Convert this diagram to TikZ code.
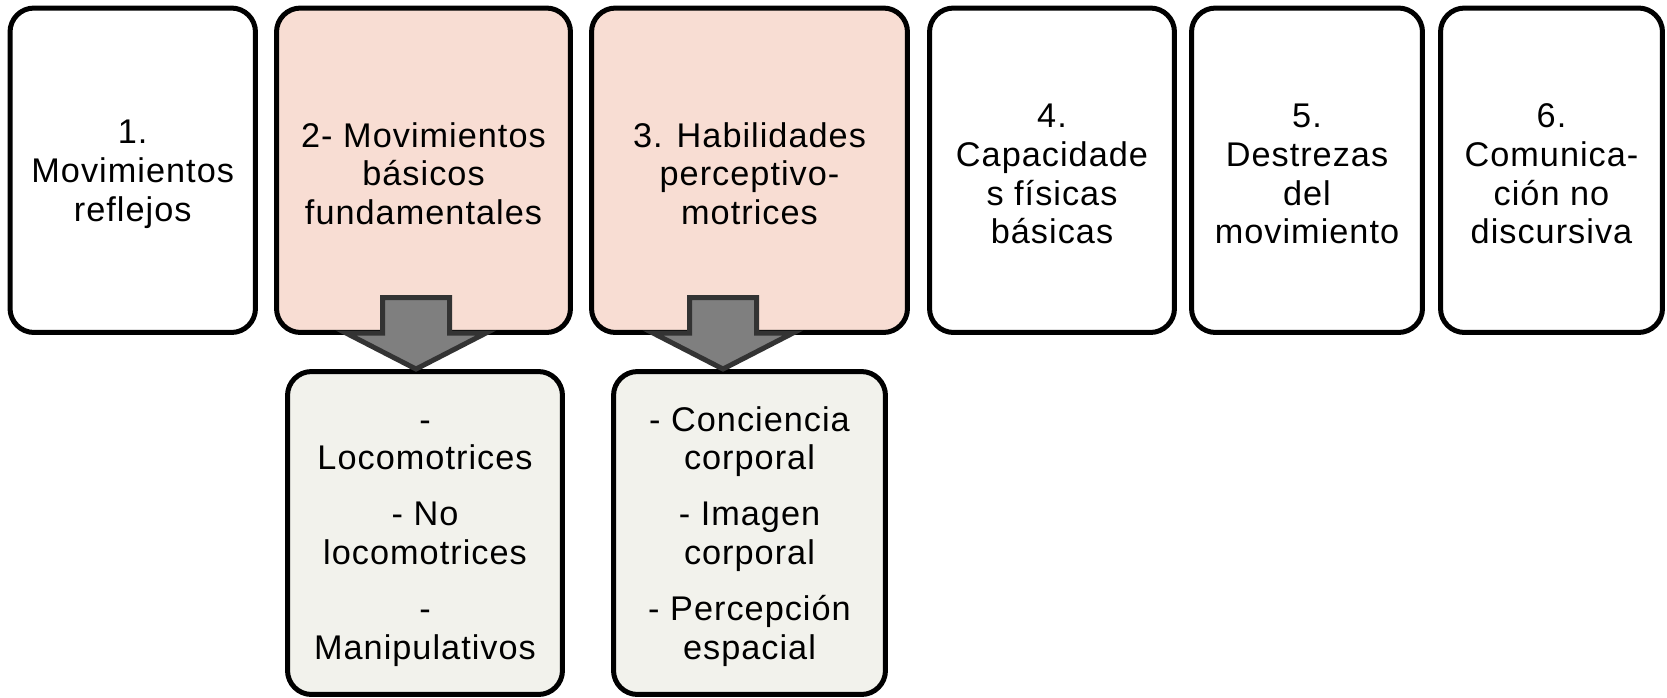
\documentclass[tikz,border=0pt]{standalone}
\usepackage{fontspec}
\setmainfont{Liberation Sans}[LetterSpace=3]
\usepackage{tikz}
\usetikzlibrary{calc}
\definecolor{rosa}{RGB}{248,221,211}
\definecolor{grisclaro}{RGB}{242,242,236}
\definecolor{grisflecha}{RGB}{127,127,127}
\definecolor{bordeflecha}{RGB}{51,51,51}
\newcommand{\alto}{\rule{0pt}{18pt}}

\begin{document}
\begin{tikzpicture}[x=0.02cm,y=-0.02cm,
  caja/.style={draw=black, line width=0.1cm, rounded corners=0.48cm, align=center,
    inner sep=0pt, minimum height=6.49cm, font=\fontsize{19.5pt}{22pt}\selectfont},
  flecha/.style={draw=bordeflecha, fill=grisflecha, line width=0.1cm, line join=miter}]
\useasboundingbox (0,0) rectangle (1667,697);

% fila de arriba
\node [caja, fill=white, minimum width=4.91cm] (c1) at (132.75,170.25) {\alto 1.\\Movimientos\\reflejos};
\node [caja, fill=rosa, minimum width=5.88cm] (c2) at (423.5,170.25) {\alto 2- Movimientos\\básicos\\fundamentales};
\node [caja, fill=rosa, minimum width=6.32cm] (c3) at (749.5,170.25) {\alto 3. Habilidades\\perceptivo-\\motrices};
\node [caja, fill=white, minimum width=4.90cm] (c4) at (1052,170.25) {\alto 4.\\Capacidade\\s físicas\\básicas};
\node [caja, fill=white, minimum width=4.62cm] (c5) at (1307,170.25) {\alto 5.\\Destrezas\\del\\movimiento};
\node [caja, fill=white, minimum width=4.44cm] (c6) at (1551.5,170.25) {\alto 6.\\Comunica-\\ción no\\discursiva};

% fila de abajo
\node [caja, fill=grisclaro, minimum width=5.50cm, minimum height=6.46cm] (cA) at (425,533)
  {\alto -\\Locomotrices\\[10pt]- No\\locomotrices\\[10pt]-\\Manipulativos};
\node [caja, fill=grisclaro, minimum width=5.44cm, minimum height=6.46cm] (cB) at (749.5,533)
  {\alto - Conciencia\\corporal\\[10pt]- Imagen\\corporal\\[10pt]- Percepción\\espacial};

% flechas
\coordinate (f1) at (416,0);
\coordinate (f2) at (723,0);
\draw [flecha] (f1 |- cA.north) -- ++(-70,-36) -- ++(36.5,0) -- ++(0,-35.5) -- ++(67,0)
  -- ++(0,35.5) -- ++(36.5,0) -- cycle;
\draw [flecha] (f2 |- cB.north) -- ++(-70,-36) -- ++(36.5,0) -- ++(0,-35.5) -- ++(67,0)
  -- ++(0,35.5) -- ++(36.5,0) -- cycle;

\end{tikzpicture}
\end{document}
